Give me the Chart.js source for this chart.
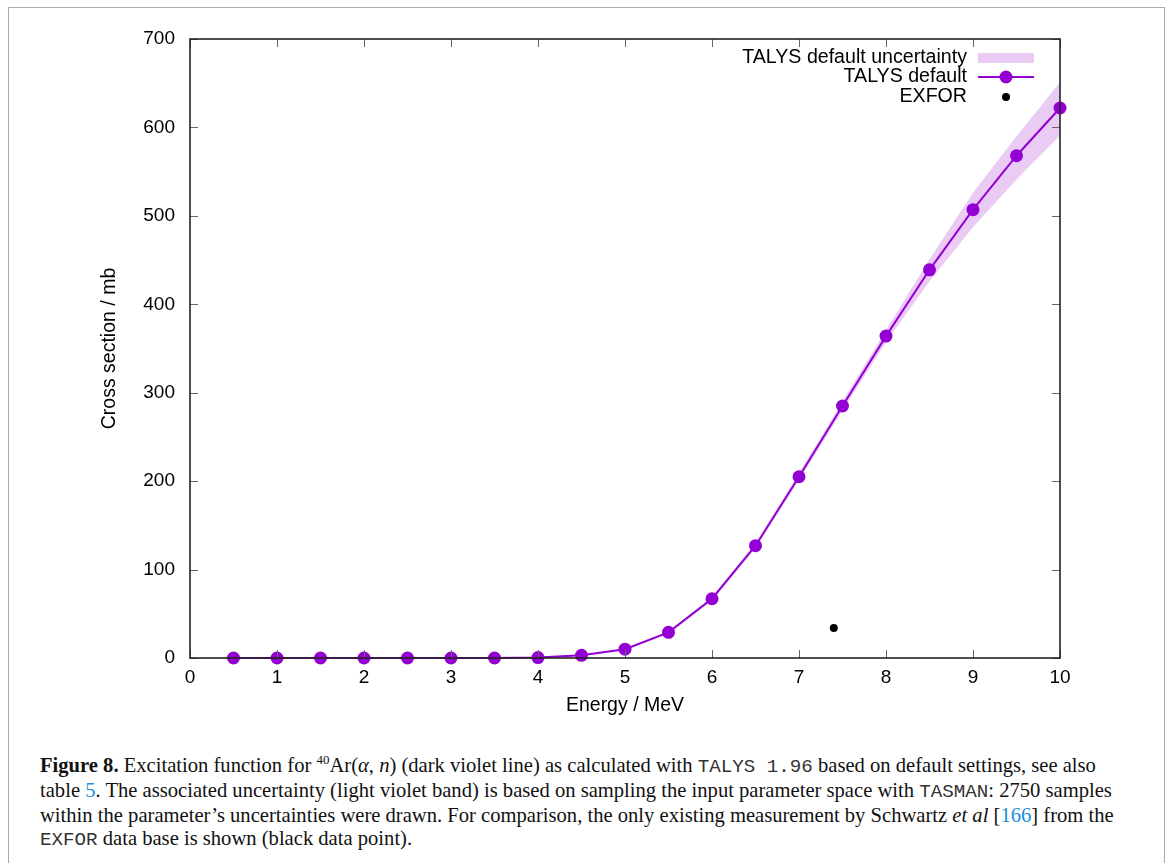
<!DOCTYPE html>
<html>
<head>
<meta charset="utf-8">
<script src="https://cdn.jsdelivr.net/npm/chart.js@4.4.1/dist/chart.umd.min.js"></script>
<style>
  body { margin: 0; background: #fff; width: 1170px; height: 863px; overflow: hidden; position: relative; }
  #frame { position: absolute; left: 8px; top: 7px; width: 1155px; height: 900px;
           border: 1.5px solid #aaa; border-bottom: none; }
  #c { position: absolute; left: 0; top: 0; }
  #caption { position: absolute; left: 40px; top: 748px; font-family: "Liberation Serif", serif;
             font-size: 20.6px; line-height: 23px; color: #111; white-space: nowrap; }
  #caption .mono { font-family: "Liberation Mono", monospace; font-size: 19.2px; color: #333; }
  #caption .ref { color: #1c8fd8; }
</style>
</head>
<body>
<div id="frame"></div>
<canvas id="c" width="1170" height="730"></canvas>
<div id="caption">
  <b>Figure 8.</b> Excitation function for <sup style="font-size:13px">40</sup>Ar(<i>α</i>, <i>n</i>) (dark violet line) as calculated with <span class="mono">TALYS 1.96</span> based on default settings, see also<br>
  table <span class="ref">5</span>. The associated uncertainty (light violet band) is based on sampling the input parameter space with <span class="mono">TASMAN</span>: 2750 samples<br>
  within the parameter’s uncertainties were drawn. For comparison, the only existing measurement by Schwartz <i>et al</i> [<span class="ref">166</span>] from the<br>
  <span class="mono">EXFOR</span> data base is shown (black data point).
</div>
<script>
// energies in MeV
const energy = [0.5, 1, 1.5, 2, 2.5, 3, 3.5, 4, 4.5, 5, 5.5, 6, 6.5, 7, 7.5, 8, 8.5, 9, 9.5, 10];
// TALYS default cross section (mb)
const talys = [0, 0, 0, 0, 0, 0, 0, 0.5, 3, 10, 29, 67, 127, 205, 285, 364, 439, 507, 568, 622];
// uncertainty band
const bandUpper = [0, 0, 0, 0, 0, 0, 0, 0.6, 3.3, 10.8, 30.5, 69, 130, 209, 290, 371, 451, 526, 590, 651];
const bandLower = [0, 0, 0, 0, 0, 0, 0, 0.4, 2.7, 9.2, 27.5, 65, 124, 201, 280, 357, 426, 487, 541, 591];
// EXFOR measurement
const exforE = [7.4];
const exforXS = [34];

const xTicks = [0, 1, 2, 3, 4, 5, 6, 7, 8, 9, 10];
const yTicks = [0, 100, 200, 300, 400, 500, 600, 700];

const VIOLET = 'rgb(148,0,211)';
const BAND = 'rgb(233,203,244)';
const FONT = '"Liberation Sans", Arial, sans-serif';

const toXY = (xs, ys) => xs.map((x, i) => ({ x: x, y: ys[i] }));

// gnuplot style frame with inward ticks on all four sides
const framePlugin = {
  id: 'frame',
  afterDraw(chart) {
    const ctx = chart.ctx;
    const a = chart.chartArea;
    const xs = chart.scales.x, ys = chart.scales.y;
    ctx.save();
    ctx.strokeStyle = '#666';
    ctx.lineWidth = 1;
    ctx.beginPath();
    xTicks.forEach(v => {
      const px = Math.round(xs.getPixelForValue(v)) + 0.5;
      ctx.moveTo(px, a.bottom); ctx.lineTo(px, a.bottom - 8);
      ctx.moveTo(px, a.top); ctx.lineTo(px, a.top + 8);
    });
    yTicks.forEach(v => {
      const py = Math.round(ys.getPixelForValue(v)) + 0.5;
      ctx.moveTo(a.left, py); ctx.lineTo(a.left + 8, py);
      ctx.moveTo(a.right, py); ctx.lineTo(a.right - 8, py);
    });
    ctx.stroke();
    ctx.strokeStyle = '#222';
    ctx.lineWidth = 1.6;
    ctx.strokeRect(a.left, a.top, a.right - a.left, a.bottom - a.top);
    ctx.restore();
  }
};

// legend: right-aligned labels with samples on the right
const legendPlugin = {
  id: 'gpLegend',
  afterDraw(chart) {
    const ctx = chart.ctx;
    ctx.save();
    ctx.font = '19.6px ' + FONT;
    ctx.fillStyle = '#000';
    ctx.textAlign = 'right';
    ctx.textBaseline = 'middle';
    const tx = 967, s0 = 978, s1 = 1034, sm = 1006;
    const rows = [58, 77, 97];
    ctx.fillText('TALYS default uncertainty', tx, rows[0]);
    ctx.fillText('TALYS default', tx, rows[1]);
    ctx.fillText('EXFOR', tx, rows[2]);

    ctx.fillStyle = BAND;
    ctx.fillRect(s0, rows[0] - 5, s1 - s0, 10);

    ctx.strokeStyle = VIOLET;
    ctx.lineWidth = 2;
    ctx.beginPath();
    ctx.moveTo(s0, rows[1]); ctx.lineTo(s1, rows[1]);
    ctx.stroke();
    ctx.fillStyle = VIOLET;
    ctx.beginPath(); ctx.arc(sm, rows[1], 6.5, 0, Math.PI * 2); ctx.fill();

    ctx.fillStyle = '#000';
    ctx.beginPath(); ctx.arc(sm, rows[2], 4, 0, Math.PI * 2); ctx.fill();
    ctx.restore();
  }
};

new Chart(document.getElementById('c').getContext('2d'), {
  type: 'line',
  data: {
    datasets: [
      {
        label: 'EXFOR',
        data: toXY(exforE, exforXS),
        showLine: false,
        pointRadius: 4,
        pointBackgroundColor: '#000',
        pointBorderWidth: 0,
        clip: false
      },
      {
        label: 'TALYS default',
        data: toXY(energy, talys),
        borderColor: VIOLET,
        borderWidth: 2,
        pointRadius: 6.5,
        pointBackgroundColor: VIOLET,
        pointBorderWidth: 0,
        tension: 0,
        clip: false
      },
      {
        label: 'upper',
        data: toXY(energy, bandUpper),
        borderWidth: 0,
        borderColor: 'rgba(0,0,0,0)',
        pointRadius: 0,
        backgroundColor: BAND,
        fill: '+1'
      },
      {
        label: 'lower',
        data: toXY(energy, bandLower),
        borderWidth: 0,
        borderColor: 'rgba(0,0,0,0)',
        pointRadius: 0,
        fill: false
      }
    ]
  },
  options: {
    responsive: false,
    animation: false,
    events: [],
    layout: { padding: { top: 39, right: 110, left: 0, bottom: 0 } },
    plugins: {
      legend: { display: false },
      tooltip: { enabled: false }
    },
    scales: {
      x: {
        type: 'linear',
        min: 0,
        max: 10,
        afterFit: s => { s.height = 72; },
        afterBuildTicks: s => { s.ticks = xTicks.map(v => ({ value: v })); },
        grid: { display: false, drawTicks: false },
        border: { display: false },
        ticks: { padding: 8, color: '#000', font: { family: FONT, size: 19 } },
        title: { display: true, text: 'Energy / MeV', color: '#000',
                 font: { family: FONT, size: 19.5 }, padding: { top: 0, bottom: 13 } }
      },
      y: {
        type: 'linear',
        min: 0,
        max: 700,
        afterFit: s => { s.width = 190; },
        afterBuildTicks: s => { s.ticks = yTicks.map(v => ({ value: v })); },
        grid: { display: false, drawTicks: false },
        border: { display: false },
        ticks: { padding: 15, color: '#000', font: { family: FONT, size: 19 } },
        title: { display: true, text: 'Cross section / mb', color: '#000',
                 font: { family: FONT, size: 19.5 }, padding: { top: 98, bottom: 0 } }
      }
    }
  },
  plugins: [framePlugin, legendPlugin]
});
</script>
</body>
</html>
